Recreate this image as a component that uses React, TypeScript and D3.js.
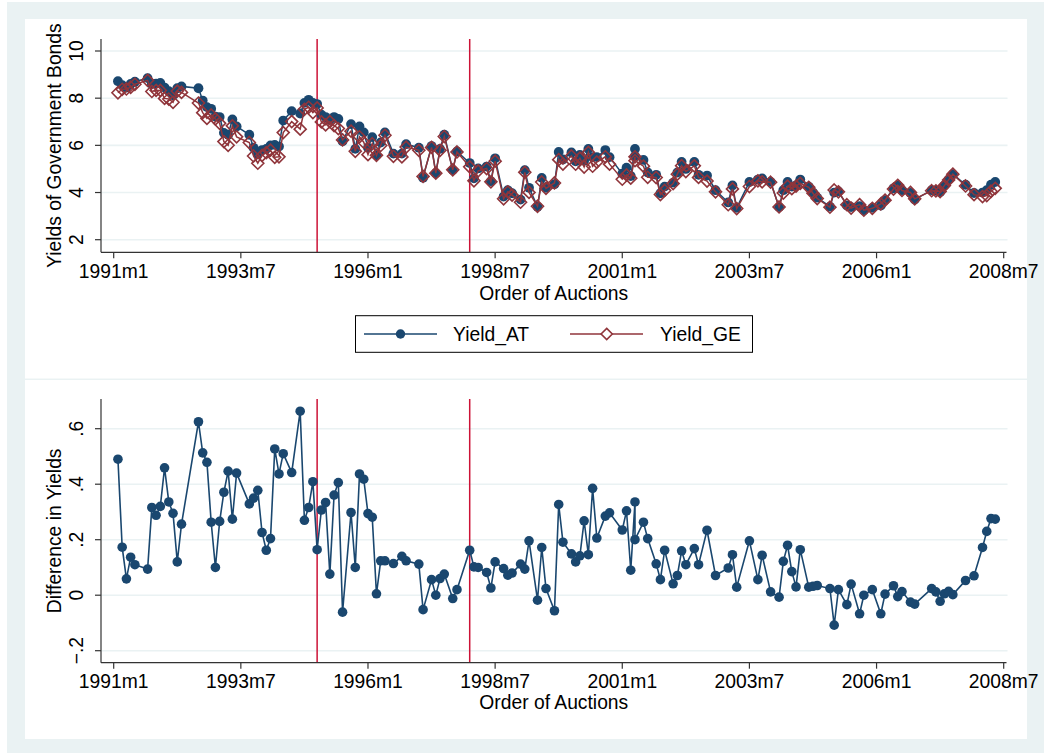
import React from "react";
import * as d3 from "d3";

// ---------- data ----------
const xTickLabels = ["1991m1", "1993m7", "1996m1", "1998m7", "2001m1", "2003m7", "2006m1", "2008m7"];
const topYTicks = [2, 4, 6, 8, 10];
const bottomYTicks = [-0.2, 0, 0.2, 0.4, 0.6];
const bottomYTickLabels = ["\u2212.2", "0", ".2", ".4", ".6"];
const eventDates = ["1995m1", "1998m1"];

const auctionDates = [
  "1991m2", "1991m3", "1991m4", "1991m5", "1991m6", "1991m9", "1991m10", "1991m11", "1991m12", "1992m1",
  "1992m2", "1992m3", "1992m4", "1992m5", "1992m9", "1992m10", "1992m11", "1992m12", "1993m1", "1993m2",
  "1993m3", "1993m4", "1993m5", "1993m6", "1993m9", "1993m10", "1993m11", "1993m12", "1994m1", "1994m2",
  "1994m3", "1994m4", "1994m5", "1994m7", "1994m9", "1994m10", "1994m11", "1994m12", "1995m1", "1995m2",
  "1995m3", "1995m4", "1995m5", "1995m6", "1995m7", "1995m9", "1995m10", "1995m11", "1995m12", "1996m1",
  "1996m2", "1996m3", "1996m4", "1996m5", "1996m7", "1996m9", "1996m10", "1997m1", "1997m2", "1997m4",
  "1997m5", "1997m6", "1997m7", "1997m9", "1997m10", "1998m1", "1998m2", "1998m3", "1998m5", "1998m6",
  "1998m7", "1998m9", "1998m10", "1998m11", "1999m1", "1999m2", "1999m3", "1999m5", "1999m6", "1999m7",
  "1999m9", "1999m10", "1999m11", "2000m1", "2000m2", "2000m3", "2000m4", "2000m5", "2000m6", "2000m7",
  "2000m9", "2000m10", "2001m1", "2001m2", "2001m3", "2001m4", "2001m4", "2001m6", "2001m7", "2001m9",
  "2001m10", "2001m11", "2002m1", "2002m2", "2002m3", "2002m4", "2002m6", "2002m7", "2002m9", "2002m11",
  "2003m2", "2003m3", "2003m4", "2003m7", "2003m9", "2003m10", "2003m12", "2004m2", "2004m3", "2004m4",
  "2004m5", "2004m6", "2004m7", "2004m9", "2004m10", "2004m11", "2005m2", "2005m3", "2005m4", "2005m6",
  "2005m7", "2005m9", "2005m10", "2005m12", "2006m2", "2006m3", "2006m5", "2006m6", "2006m7", "2006m9",
  "2006m10", "2007m2", "2007m3", "2007m4", "2007m5", "2007m6", "2007m7", "2007m10", "2007m12", "2008m2",
  "2008m3", "2008m4", "2008m5",
];

const yieldAT = [
  8.72, 8.55, 8.45, 8.6, 8.7, 8.85, 8.6, 8.62, 8.65, 8.45,
  8.3, 8.12, 8.42, 8.5, 8.42, 7.9, 7.62, 7.55, 7.22, 7.2,
  6.53, 6.45, 7.1, 6.8, 6.45, 5.9, 5.62, 5.8, 5.85, 6.0,
  6.02, 5.95, 7.05, 7.45, 7.35, 7.8, 7.93, 7.8, 7.75, 7.3,
  7.2, 7.08, 7.2, 7.12, 6.17, 6.9, 5.85, 6.8, 6.55, 5.9,
  6.35, 5.58, 6.12, 6.55, 5.65, 5.65, 6.05, 5.9, 4.63, 5.97,
  4.82, 5.85, 6.45, 4.95, 5.74, 5.25, 4.6, 5.02, 5.1, 4.48,
  5.45, 3.83, 4.1, 3.97, 3.7, 4.95, 4.2, 3.4, 4.62, 4.2,
  4.35, 5.72, 5.4, 5.7, 5.32, 5.6, 5.35, 5.85, 5.5, 5.5,
  5.8, 5.5, 4.8, 5.05, 4.7, 5.85, 5.55, 5.38, 4.85, 4.75,
  3.97, 4.25, 4.42, 4.85, 5.3, 5.0, 5.3, 4.75, 4.72, 4.1,
  3.58, 4.3, 3.35, 4.45, 4.55, 4.6, 4.45, 3.38, 4.1, 4.45,
  4.25, 4.3, 4.55, 4.25, 4.0, 3.78, 3.4, 4.0, 4.05, 3.45,
  3.38, 3.42, 3.25, 3.35, 3.45, 3.68, 4.18, 4.3, 4.1, 3.98,
  3.7, 4.1, 4.08, 4.02, 4.3, 4.55, 4.78, 4.33, 3.98, 4.0,
  4.1, 4.33, 4.45,
];

const yieldGE = [
  8.23, 8.377, 8.391, 8.463, 8.59, 8.756, 8.284, 8.332, 8.33, 7.991,
  7.964, 7.825, 8.3, 8.244, 7.795, 7.387, 7.141, 7.287, 7.12, 6.934,
  6.159, 6.003, 6.826, 6.36, 6.121, 5.55, 5.242, 5.574, 5.688, 5.796,
  5.493, 5.513, 6.54, 7.008, 6.687, 7.53, 7.614, 7.391, 7.586, 6.993,
  6.866, 7.004, 6.839, 6.714, 6.231, 6.602, 5.75, 6.363, 6.132, 5.606,
  6.069, 5.575, 5.996, 6.426, 5.536, 5.51, 5.926, 5.788, 4.682, 5.914,
  4.82, 5.79, 6.374, 4.962, 5.72, 5.088, 4.498, 4.92, 5.018, 4.454,
  5.33, 3.734, 4.028, 3.89, 3.588, 4.856, 4.004, 3.418, 4.448, 4.176,
  4.406, 5.393, 5.209, 5.551, 5.2, 5.458, 5.082, 5.704, 5.115, 5.294,
  5.515, 5.203, 4.565, 4.746, 4.61, 5.514, 5.35, 5.117, 4.646, 4.637,
  3.914, 4.088, 4.379, 4.779, 5.14, 4.89, 5.132, 4.64, 4.486, 4.029,
  3.482, 4.154, 3.321, 4.254, 4.494, 4.456, 4.438, 3.387, 3.978, 4.27,
  4.165, 4.27, 4.386, 4.221, 3.968, 3.745, 3.376, 4.108, 4.03, 3.484,
  3.34, 3.487, 3.25, 3.33, 3.517, 3.676, 4.146, 4.305, 4.087, 4.005,
  3.732, 4.076, 4.068, 4.042, 4.295, 4.536, 4.778, 4.277, 3.91, 3.828,
  3.87, 4.054, 4.176,
];

// ---------- helpers ----------
const tm = (s: string) => {
  const [y, m] = s.split("m").map(Number);
  return (y - 1960) * 12 + (m - 1);
};

const W = 1044;
const H = 753;
const BG = "#EAF2F3";
const NAVY = "#1A476F";
const MAROON = "#90353B";
const XLINE = "#CC1236";
const AXIS = "#333333";
const FONT = "'Liberation Sans', Arial, Helvetica, sans-serif";
const FS = 19.3;

const PLOT_L = 101;
const PLOT_R = 1006.5;

const x = d3
  .scaleLinear()
  .domain([tm(xTickLabels[0]), tm(xTickLabels[xTickLabels.length - 1])])
  .range([113.7, 1003.7]);

type Row = { t: number; at: number; ge: number; diff: number };
const rows: Row[] = auctionDates.map((d, i) => ({
  t: tm(d),
  at: yieldAT[i],
  ge: yieldGE[i],
  diff: yieldAT[i] - yieldGE[i],
}));

function Axes(props: {
  y: d3.ScaleLinear<number, number>;
  yTicks: number[];
  yLabels: string[];
  top: number;
  bottom: number;
  yTitle: string;
  xLabelBase: number;
  xTitleBase: number;
}) {
  const { y, yTicks, yLabels, top, bottom, yTitle, xLabelBase, xTitleBase } = props;
  const midY = (top + bottom) / 2;
  return (
    <g>
      {yTicks.map((v) => (
        <line key={"g" + v} x1={PLOT_L} x2={PLOT_R + 1} y1={y(v)} y2={y(v)} stroke={BG} strokeWidth={1.6} />
      ))}
      {eventDates.map((d) => (
        <line key={d} x1={x(tm(d))} x2={x(tm(d))} y1={top} y2={bottom} stroke={XLINE} strokeWidth={1.5} />
      ))}
      <line x1={PLOT_L} x2={PLOT_L} y1={top} y2={bottom} stroke={AXIS} strokeWidth={1.2} />
      <line x1={PLOT_L} x2={PLOT_R} y1={bottom} y2={bottom} stroke={AXIS} strokeWidth={1.2} />
      {yTicks.map((v, i) => (
        <g key={"yt" + v}>
          <line x1={PLOT_L - 6} x2={PLOT_L} y1={y(v)} y2={y(v)} stroke={AXIS} strokeWidth={1.2} />
          <text
            transform={`translate(83,${y(v)}) rotate(-90)`}
            textAnchor="middle"
            fontSize={FS}
            fontFamily={FONT}
            fill="#000"
          >
            {yLabels[i]}
          </text>
        </g>
      ))}
      {xTickLabels.map((l) => (
        <g key={l}>
          <line x1={x(tm(l))} x2={x(tm(l))} y1={bottom} y2={bottom + 6} stroke={AXIS} strokeWidth={1.2} />
          <text x={x(tm(l))} y={xLabelBase} textAnchor="middle" fontSize={FS} fontFamily={FONT} fill="#000">
            {l}
          </text>
        </g>
      ))}
      <text
        transform={`translate(61,${midY}) rotate(-90)`}
        textAnchor="middle"
        fontSize={FS}
        fontFamily={FONT}
        fill="#000"
      >
        {yTitle}
      </text>
      <text x={(PLOT_L + PLOT_R) / 2} y={xTitleBase} textAnchor="middle" fontSize={FS} fontFamily={FONT} fill="#000">
        Order of Auctions
      </text>
    </g>
  );
}

const diamond = (cx: number, cy: number, r: number) =>
  `M${cx},${cy - r}L${cx + r},${cy}L${cx},${cy + r}L${cx - r},${cy}Z`;

export default function App() {
  const yTop = d3.scaleLinear().domain([2, 10]).range([239.7, 51]);
  const yBot = d3.scaleLinear().domain([-0.2, 0.6]).range([650.7, 428.7]);

  const lineAT = d3
    .line<Row>()
    .x((d) => x(d.t))
    .y((d) => yTop(d.at));
  const lineGE = d3
    .line<Row>()
    .x((d) => x(d.t))
    .y((d) => yTop(d.ge));
  const lineDiff = d3
    .line<Row>()
    .x((d) => x(d.t))
    .y((d) => yBot(d.diff));

  return (
    <svg
      width={W}
      height={H}
      viewBox={`0 0 ${W} ${H}`}
      style={{ position: "absolute", left: 0, top: 0, display: "block" }}
    >
      <rect x={0} y={0} width={W} height={H} fill="#fff" />
      <rect x={7} y={2} width={W - 7} height={H - 2} fill={BG} />
      <rect x={25} y={19} width={1002} height={359.5} fill="#fff" />
      <rect x={25} y={380} width={1002} height={359} fill="#fff" />

      {/* top panel */}
      <Axes
        y={yTop}
        yTicks={topYTicks}
        yLabels={topYTicks.map(String)}
        top={39}
        bottom={252.3}
        yTitle="Yields of Government Bonds"
        xLabelBase={278}
        xTitleBase={300}
      />
      <path d={lineAT(rows) || ""} fill="none" stroke={NAVY} strokeWidth={1.5} />
      {rows.map((d, i) => (
        <circle key={"a" + i} cx={x(d.t)} cy={yTop(d.at)} r={4.9} fill={NAVY} />
      ))}
      <path d={lineGE(rows) || ""} fill="none" stroke={MAROON} strokeWidth={1.5} />
      {rows.map((d, i) => (
        <path key={"g" + i} d={diamond(x(d.t), yTop(d.ge), 6)} fill="none" stroke={MAROON} strokeWidth={1.6} />
      ))}

      {/* legend */}
      <g>
        <rect x={355.5} y={315.7} width={397} height={36.6} fill="#fff" stroke="#000" strokeWidth={1} />
        <line x1={364} x2={437} y1={334} y2={334} stroke={NAVY} strokeWidth={1.5} />
        <circle cx={400.5} cy={334} r={4.7} fill={NAVY} />
        <text x={453} y={341} fontSize={FS} fontFamily={FONT} fill="#000">
          Yield_AT
        </text>
        <line x1={570} x2={643} y1={334} y2={334} stroke={MAROON} strokeWidth={1.5} />
        <path d={diamond(606.7, 334, 5.6)} fill="#fff" stroke={MAROON} strokeWidth={1.6} />
        <text x={660} y={341} fontSize={FS} fontFamily={FONT} fill="#000">
          Yield_GE
        </text>
      </g>

      {/* bottom panel */}
      <Axes
        y={yBot}
        yTicks={bottomYTicks}
        yLabels={bottomYTickLabels}
        top={399}
        bottom={662.7}
        yTitle="Difference in Yields"
        xLabelBase={687.5}
        xTitleBase={709.3}
      />
      <path d={lineDiff(rows) || ""} fill="none" stroke={NAVY} strokeWidth={1.6} />
      {rows.map((d, i) => (
        <circle key={"d" + i} cx={x(d.t)} cy={yBot(d.diff)} r={4.8} fill={NAVY} />
      ))}
    </svg>
  );
}
